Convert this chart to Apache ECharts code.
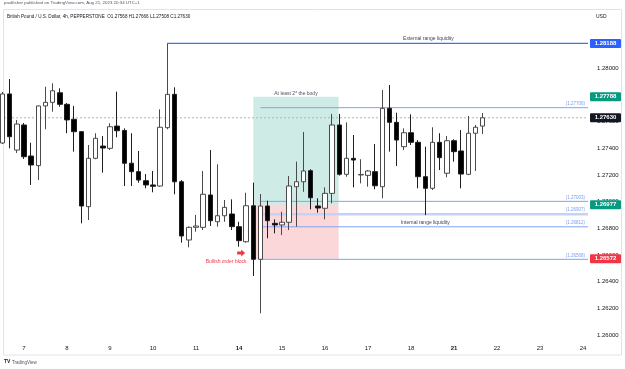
<!DOCTYPE html>
<html>
<head>
<meta charset="utf-8">
<script src="https://cdn.jsdelivr.net/npm/echarts@6/dist/echarts.min.js"></script>
<style>
  html, body { margin: 0; padding: 0; background: #fff; }
  #chart { width: 625px; height: 369px; }
</style>
</head>
<body>
<div id="chart"></div>
<script>
// GBPUSD 4h candles, first one sits 3 bars before the day-7 open
const firstIndex = -3;
const opens = [
  1.27441, 1.27809, 1.27388, 1.27576, 1.27343, 1.27271, 1.27719, 1.27746, 1.27818, 1.27731,
  1.27619, 1.27526, 1.26963, 1.27326, 1.27418, 1.27401, 1.27568, 1.27535, 1.27289, 1.27226,
  1.27158, 1.27126, 1.27118, 1.27556, 1.27806, 1.27150, 1.26713, 1.26808, 1.26808, 1.27051,
  1.26850, 1.26895, 1.26908, 1.26813, 1.26700, 1.26970, 1.26568, 1.26968, 1.26838, 1.26826,
  1.26846, 1.27113, 1.27150, 1.27233, 1.26968, 1.26951, 1.27063, 1.27576, 1.27206, 1.27326,
  1.27201, 1.27198, 1.27226, 1.27113, 1.27701, 1.27596, 1.27413, 1.27518, 1.27446, 1.27188,
  1.27101, 1.27446, 1.27214, 1.27458, 1.27381, 1.27206, 1.27514, 1.27568
];
const highs = [
  1.27824, 1.27921, 1.27614, 1.27591, 1.27443, 1.27722, 1.27863, 1.27889, 1.27851, 1.27741,
  1.27719, 1.27530, 1.27426, 1.27514, 1.27493, 1.27589, 1.27826, 1.27551, 1.27514, 1.27381,
  1.27208, 1.27231, 1.27694, 1.28188, 1.27859, 1.27163, 1.26815, 1.26901, 1.27231, 1.27388,
  1.27281, 1.27013, 1.27018, 1.26850, 1.27068, 1.27143, 1.27058, 1.27008, 1.26868, 1.26925,
  1.27193, 1.27301, 1.27523, 1.27244, 1.27026, 1.27108, 1.27659, 1.27659, 1.27596, 1.27501,
  1.27319, 1.27238, 1.27433, 1.27839, 1.27876, 1.27668, 1.27551, 1.27656, 1.27463, 1.27413,
  1.27559, 1.27514, 1.27493, 1.27469, 1.27538, 1.27644, 1.27576, 1.27666
];
const lows = [
  1.27433, 1.27401, 1.27366, 1.27321, 1.27126, 1.27163, 1.27544, 1.27676, 1.27713, 1.27514,
  1.27376, 1.26838, 1.26863, 1.27319, 1.27218, 1.27388, 1.27484, 1.27118, 1.27118, 1.27143,
  1.27101, 1.27071, 1.27113, 1.27544, 1.27056, 1.26693, 1.26658, 1.26775, 1.26788, 1.26818,
  1.26813, 1.26850, 1.26788, 1.26663, 1.26693, 1.26443, 1.26163, 1.26726, 1.26763, 1.26750,
  1.26788, 1.26813, 1.27075, 1.26943, 1.26918, 1.26868, 1.26988, 1.27196, 1.27188, 1.27108,
  1.27138, 1.27113, 1.27093, 1.27026, 1.27376, 1.27268, 1.27388, 1.27426, 1.27101, 1.26900,
  1.27088, 1.27238, 1.27184, 1.27301, 1.27101, 1.27200, 1.27231, 1.27508
];
const closes = [
  1.27809, 1.27488, 1.27583, 1.27338, 1.27276, 1.27719, 1.27746, 1.27833, 1.27731, 1.27614,
  1.27526, 1.26968, 1.27326, 1.27476, 1.27403, 1.27563, 1.27533, 1.27289, 1.27226, 1.27163,
  1.27126, 1.27116, 1.27559, 1.27806, 1.27150, 1.26743, 1.26808, 1.26818, 1.27056, 1.26858,
  1.26895, 1.26958, 1.26813, 1.26708, 1.26970, 1.26568, 1.26968, 1.26858, 1.26826, 1.26846,
  1.27118, 1.27150, 1.27231, 1.27030, 1.26953, 1.27063, 1.27576, 1.27206, 1.27326, 1.27313,
  1.27205, 1.27231, 1.27120, 1.27701, 1.27596, 1.27463, 1.27518, 1.27446, 1.27188, 1.27101,
  1.27446, 1.27331, 1.27458, 1.27376, 1.27208, 1.27514, 1.27559, 1.27630
];

const dayLabels = ['7', '8', '9', '10', '11', '14', '15', '16', '17', '18', '21', '22', '23', '24'];
const dayStarts = [0, 6, 12, 18, 24, 30, 36, 42, 48, 54, 60, 66, 72, 78];
const weekStarts = ['14', '21'];
const priceTicks = [1.26, 1.262, 1.264, 1.266, 1.268, 1.27, 1.272, 1.274, 1.276, 1.278, 1.28, 1.282];

// drawings
const externalStart = 20;
const externalHigh = 1.28188;
const externalLabelAt = 52.9;
const levelStart = 33;
const levelPrices = [1.27706, 1.27003, 1.26907, 1.26812, 1.26568];
const thickLevel = 1.26907;
const internalLabelAt = 56;
const boxFrom = 32;
const boxTo = 43.9;
const boxTarget = 1.27788;
const boxEntry = 1.26977;
const boxStop = 1.26572;
const arrowAt = 30.3;
const arrowPrice = 1.26615;
const lastClose = 1.2763;
const tagPrices = [1.28188, 1.27788, 1.2763, 1.26977, 1.26572];
const tagColors = ['#2962ff', '#089981', '#131722', '#089981', '#f23645'];

const FONT = "'Liberation Sans', Arial, sans-serif";
const chart = echarts.init(document.getElementById('chart'));

const candles = opens.map((o, i) => [firstIndex + i, o, closes[i], lows[i], highs[i]]);

chart.setOption({
  animation: false,
  backgroundColor: '#fff',
  grid: { left: 4, right: 37, top: 10, bottom: 28 },
  xAxis: {
    type: 'value',
    min: -2.79,
    max: 78.7,
    splitLine: { show: false },
    axisLine: { show: false },
    axisTick: { show: false },
    axisLabel: {
      customValues: dayStarts,
      margin: 4,
      formatter: v => {
        const d = dayLabels[dayStarts.indexOf(Math.round(v))] || '';
        return weekStarts.includes(d) ? '{b|' + d + '}' : d;
      },
      color: '#131722',
      fontSize: 6,
      fontFamily: FONT,
      rich: { b: { fontWeight: 'bold', fontSize: 6, fontFamily: FONT, color: '#131722' } }
    }
  },
  yAxis: {
    type: 'value',
    position: 'right',
    min: 1.25955,
    max: 1.28439,
    scale: true,
    splitLine: { show: false },
    axisLine: { show: false },
    axisTick: { show: false },
    axisLabel: {
      customValues: priceTicks,
      margin: 9,
      formatter: v => v.toFixed(5),
      color: '#131722',
      fontSize: 6,
      fontFamily: FONT
    }
  },
  series: [
    {
      // long position box
      type: 'custom',
      z: 1,
      silent: true,
      data: [[boxFrom, boxTarget, boxTo, boxEntry, boxStop]],
      renderItem: (params, api) => {
        const tl = api.coord([api.value(0), api.value(1)]);
        const mid = api.coord([api.value(2), api.value(3)]);
        const br = api.coord([api.value(2), api.value(4)]);
        return {
          type: 'group',
          children: [
            { type: 'rect', shape: { x: tl[0], y: tl[1], width: mid[0] - tl[0], height: mid[1] - tl[1] },
              style: { fill: 'rgba(8,153,129,0.2)' } },
            { type: 'rect', shape: { x: tl[0], y: mid[1], width: br[0] - tl[0], height: br[1] - mid[1] },
              style: { fill: 'rgba(242,54,69,0.2)' } },
            { type: 'text', x: (tl[0] + mid[0]) / 2, y: tl[1] - 1,
              style: { text: 'At least 2* the body', fill: '#50535e', font: '5px ' + FONT,
                       align: 'center', verticalAlign: 'bottom' } }
          ]
        };
      }
    },
    {
      // last price dashed line
      type: 'custom',
      z: 1,
      silent: true,
      data: [[0, lastClose]],
      renderItem: (params, api) => {
        const cs = params.coordSys;
        const y = api.coord([0, api.value(1)])[1];
        return { type: 'line', shape: { x1: cs.x, y1: y, x2: cs.x + cs.width, y2: y },
                 style: { stroke: '#b2b5be', lineWidth: 1, lineDash: [2, 2] } };
      }
    },
    {
      // horizontal levels
      type: 'custom',
      z: 1,
      silent: true,
      data: levelPrices.map(p => [levelStart, p]),
      renderItem: (params, api) => {
        const cs = params.coordSys;
        const p = api.value(1);
        const a = api.coord([api.value(0), p]);
        const right = cs.x + cs.width;
        const thick = p === thickLevel;
        return {
          type: 'group',
          children: [
            { type: 'line', shape: { x1: a[0], y1: a[1], x2: right, y2: a[1] },
              style: { stroke: thick ? '#c3d3f8' : '#7ea3f3', lineWidth: thick ? 2.5 : 1 } },
            { type: 'text', x: right - 3, y: a[1] - 1.5,
              style: { text: '(' + p.toFixed(5) + ')', fill: '#7b9cec', font: '4.5px ' + FONT,
                       align: 'right', verticalAlign: 'bottom' } }
          ]
        };
      }
    },
    {
      // external range liquidity
      type: 'custom',
      z: 1,
      silent: true,
      data: [[externalStart, externalHigh]],
      renderItem: (params, api) => {
        const cs = params.coordSys;
        const a = api.coord([api.value(0), api.value(1)]);
        const t = api.coord([externalLabelAt, api.value(1)]);
        return {
          type: 'group',
          children: [
            { type: 'line', shape: { x1: a[0], y1: a[1], x2: cs.x + cs.width, y2: a[1] },
              style: { stroke: '#3f72f0', lineWidth: 1.2 } },
            { type: 'text', x: t[0], y: a[1] - 2,
              style: { text: 'External range liquidity', fill: '#434651', font: '5px ' + FONT,
                       align: 'left', verticalAlign: 'bottom' } }
          ]
        };
      }
    },
    {
      // internal range liquidity label + order block arrow
      type: 'custom',
      z: 4,
      silent: true,
      data: [[internalLabelAt, levelPrices[3], arrowAt, arrowPrice]],
      renderItem: (params, api) => {
        const t = api.coord([api.value(0), api.value(1)]);
        const c = api.coord([api.value(2), api.value(3)]);
        const cx = c[0], cy = c[1];
        return {
          type: 'group',
          children: [
            { type: 'text', x: t[0], y: t[1] - 2,
              style: { text: 'Internal range liquidity', fill: '#434651', font: '5px ' + FONT,
                       align: 'center', verticalAlign: 'bottom' } },
            { type: 'polygon',
              shape: { points: [[cx - 4, cy - 1.5], [cx, cy - 1.5], [cx, cy - 3.5], [cx + 4, cy],
                                [cx, cy + 3.5], [cx, cy + 1.5], [cx - 4, cy + 1.5]] },
              style: { fill: '#f23645' } },
            { type: 'text', x: cx - 15, y: cy + 9,
              style: { text: 'Bullish order block', fill: '#f23645', font: '5px ' + FONT,
                       align: 'center', verticalAlign: 'middle' } }
          ]
        };
      }
    },
    {
      type: 'candlestick',
      z: 3,
      barWidth: 5,
      data: candles,
      encode: { x: 0, y: [1, 2, 3, 4] },
      itemStyle: {
        color: '#ffffff',
        color0: '#000000',
        borderColor: '#4a4a4a',
        borderColor0: '#1e1e1e',
        borderWidth: 1
      }
    },
    {
      // price tags on the scale
      type: 'custom',
      z: 10,
      silent: true,
      clip: false,
      data: tagPrices.map(p => [0, p]),
      renderItem: (params, api) => {
        const cs = params.coordSys;
        const p = api.value(1);
        const y = api.coord([0, p])[1];
        const x = cs.x + cs.width + 2;
        return {
          type: 'group',
          children: [
            { type: 'rect', shape: { x: x, y: y - 4.5, width: 31, height: 9, r: 1 },
              style: { fill: tagColors[params.dataIndex] } },
            { type: 'text', x: x + 15.5, y: y,
              style: { text: p.toFixed(5), fill: '#fff', font: 'bold 6px ' + FONT,
                       align: 'center', verticalAlign: 'middle' } }
          ]
        };
      }
    }
  ],
  graphic: [
    { type: 'rect', silent: true, z: -1,
      shape: { x: 3.5, y: 9.5, width: 618, height: 345.5 },
      style: { fill: 'none', stroke: '#e0e3eb', lineWidth: 1 } },
    { type: 'text', left: 4, top: 1,
      style: { text: 'paulfisher published on TradingView.com, Aug 21, 2023 20:34 UTC+1',
               fill: '#50535e', font: '4.4px ' + FONT } },
    { type: 'text', left: 7, top: 14.5,
      style: { text: 'British Pound / U.S. Dollar, 4h, PEPPERSTONE  O1.27568 H1.27666 L1.27508 C1.27630',
               fill: '#131722', font: '4.6px ' + FONT } },
    { type: 'text', left: 596, top: 14.5,
      style: { text: 'USD', fill: '#131722', font: '5px ' + FONT } },
    { type: 'text', left: 4, top: 359.5,
      style: { text: 'TV', fill: '#131722', font: 'bold 5px ' + FONT } },
    { type: 'text', left: 12, top: 359.8,
      style: { text: 'TradingView', fill: '#50535e', font: '4.5px ' + FONT } }
  ]
});
</script>
</body>
</html>
